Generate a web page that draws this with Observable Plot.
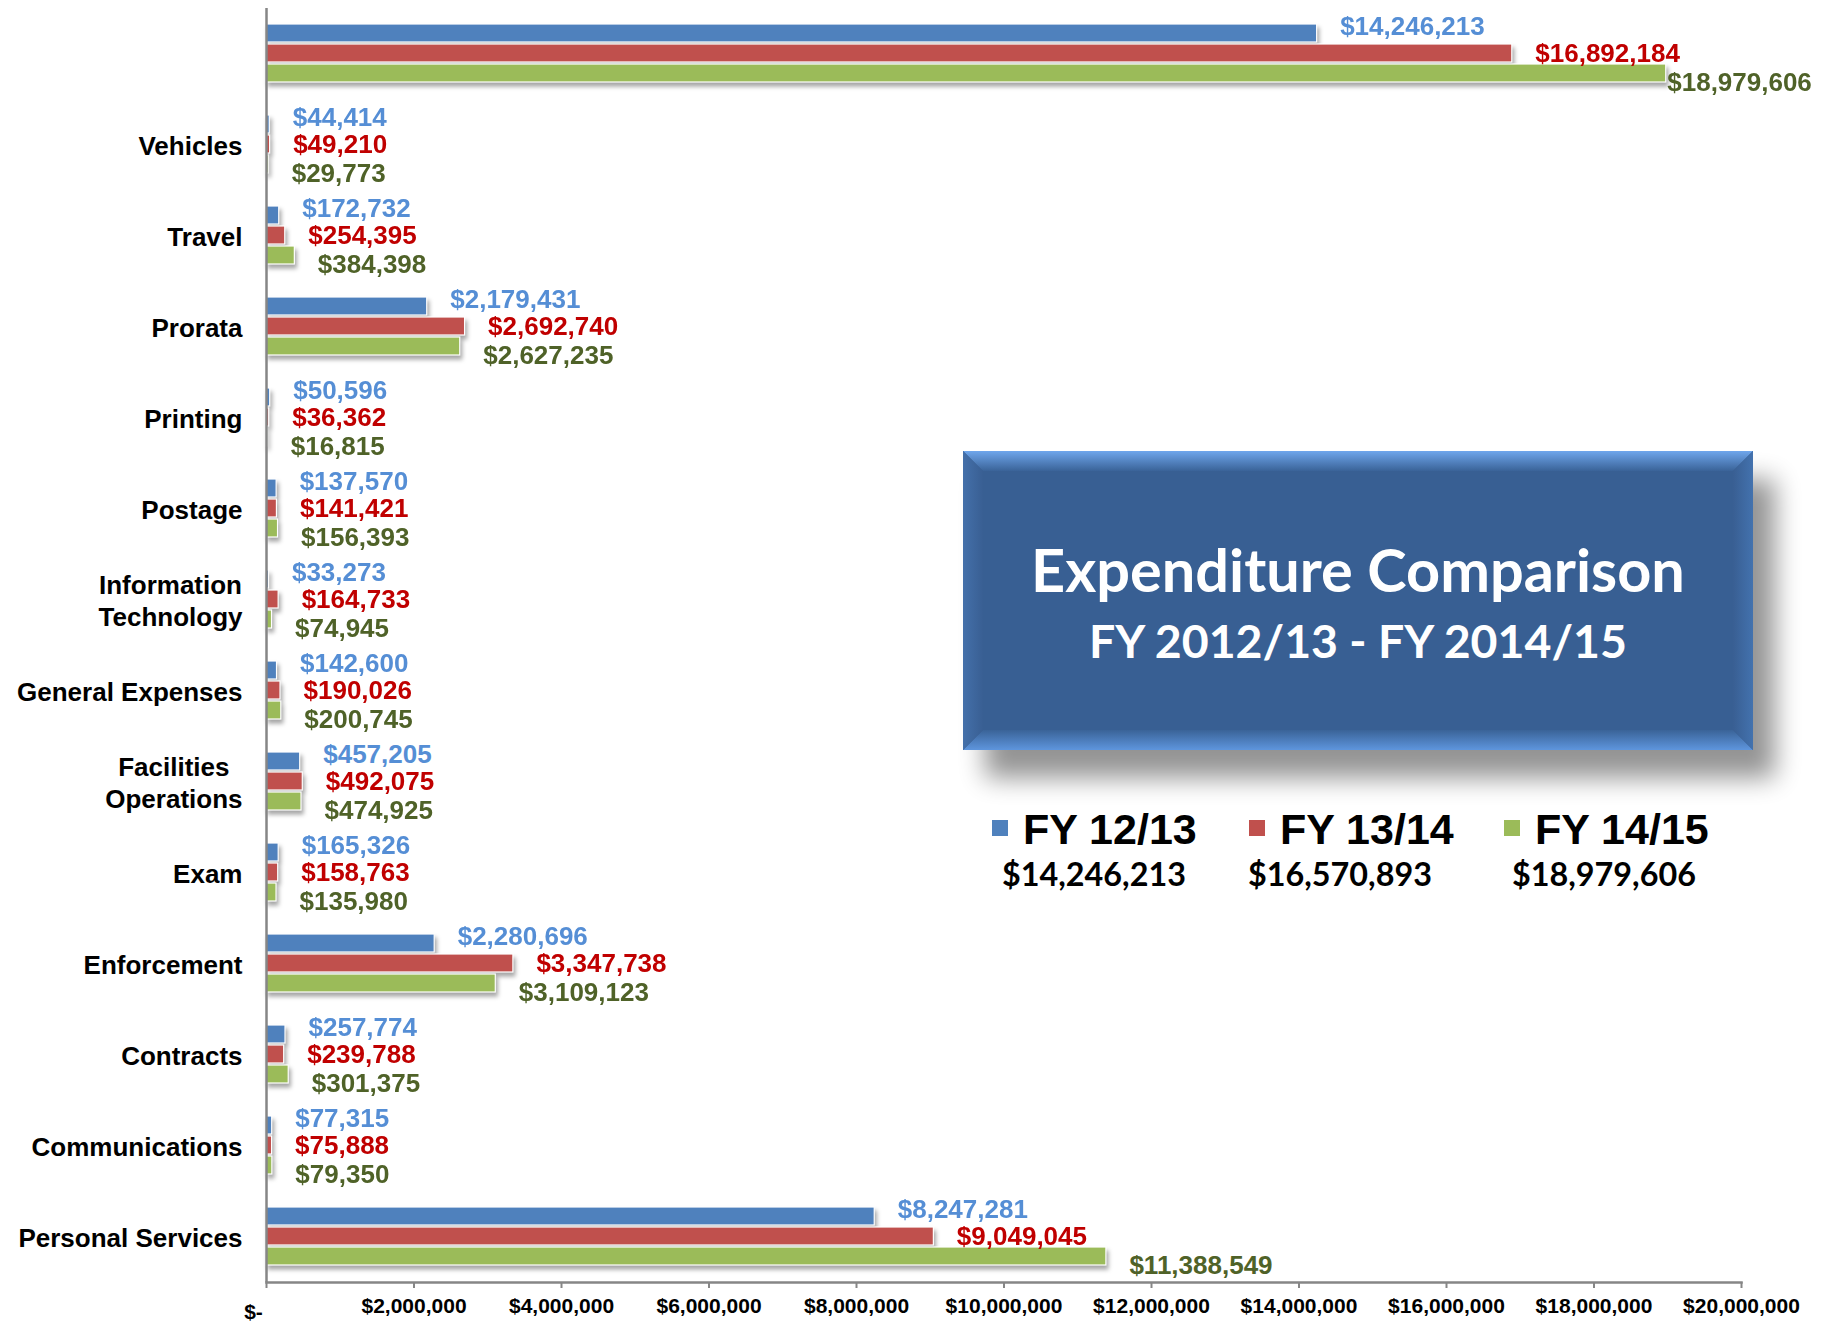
<!DOCTYPE html>
<html>
<head>
<meta charset="utf-8">
<script src="https://cdn.jsdelivr.net/npm/d3@7"></script>
<script src="https://cdn.jsdelivr.net/npm/@observablehq/plot@0.6"></script>
<style>
  html, body { margin: 0; padding: 0; background: #fff; }
  #chart { width: 1837px; height: 1322px; }
</style>
</head>
<body>
<div id="chart"></div>
<script>
// ---------------- data ----------------
const categories = ["Total", "Vehicles", "Travel", "Prorata", "Printing", "Postage",
  "Information Technology", "General Expenses", "Facilities Operations", "Exam",
  "Enforcement", "Contracts", "Communications", "Personal Services"];
const wrappedCategories = ["Information Technology", "Facilities Operations"];
const series = ["FY 12/13", "FY 13/14", "FY 14/15"];
const fy1213 = [14246213, 44414, 172732, 2179431, 50596, 137570, 33273, 142600, 457205, 165326, 2280696, 257774, 77315, 8247281];
const fy1314 = [16892184, 49210, 254395, 2692740, 36362, 141421, 164733, 190026, 492075, 158763, 3347738, 239788, 75888, 9049045];
const fy1415 = [18979606, 29773, 384398, 2627235, 16815, 156393, 74945, 200745, 474925, 135980, 3109123, 301375, 79350, 11388549];
const legendTotals = [14246213, 16570893, 18979606];
const xTicks = [0, 2000000, 4000000, 6000000, 8000000, 10000000, 12000000, 14000000, 16000000, 18000000, 20000000];
const titleText = "Expenditure Comparison";
const subtitleText = "FY 2012/13 - FY 2014/15";

// ---------------- styles ----------------
const barColors = ["#4F81BD", "#C0504D", "#9BBB59"];
const labelColors = ["#558ED5", "#C00000", "#4F6228"];
const labelDy = [-7, 0, 9];
const W = 1837, H = 1322;
const xMax = 20000000;

const seriesValues = [fy1213, fy1314, fy1415];
const data = categories.flatMap((c, i) => series.map((s, j) => ({category: c, series: s, value: seriesValues[j][i]})));

const money = v => "$" + d3.format(",")(v);
const tickFmt = v => v === 0 ? "$-" : money(v);
const catFmt = c => c === "Total" ? "" : (wrappedCategories.includes(c) ? c.replace(" ", "\n") : c);

const labelMarks = series.flatMap((s, j) => [
  Plot.text(data.filter(d => d.series === s && d.value <= 0.9 * xMax), {
    fy: "category", y: "series", x: "value", text: d => money(d.value),
    textAnchor: "start", dx: 23, dy: labelDy[j], fill: labelColors[j],
    fontSize: 26, fontWeight: "bold"
  }),
  Plot.text(data.filter(d => d.series === s && d.value > 0.9 * xMax), {
    fy: "category", y: "series", x: "value", text: d => money(d.value),
    textAnchor: "start", dx: 1, dy: labelDy[j], fill: labelColors[j],
    fontSize: 26, fontWeight: "bold"
  })
]);

const svgNode = Plot.plot({
  width: W, height: H,
  marginLeft: 266, marginRight: 96, marginTop: 7, marginBottom: 39,
  style: {fontFamily: "'Liberation Sans', Arial, sans-serif", background: "white", overflow: "visible"},
  x: {domain: [0, xMax]},
  y: {domain: series, paddingInner: 0.08, paddingOuter: 0.76, axis: null},
  fy: {domain: categories, padding: 0},
  color: {domain: series, range: barColors},
  marks: [
    Plot.barX(data, {fy: "category", y: "series", x: "value", fill: "series", stroke: "white", strokeWidth: 1.2}),
    Plot.ruleX([0], {stroke: "#868686", strokeWidth: 2.5}),
    Plot.frame({anchor: "bottom", facetAnchor: "bottom", stroke: "#868686", strokeWidth: 2.5}),
    Plot.axisX({ticks: xTicks, tickFormat: tickFmt, tickSize: 6, tickPadding: 10, fontSize: 21,
      fontWeight: "bold", stroke: "#868686", strokeWidth: 2, fill: "black", label: null}),
    Plot.axisFy({anchor: "left", tickSize: 0, tickPadding: 24, fontSize: 26, fontWeight: "bold",
      fill: "black", lineHeight: 1.2, tickFormat: catFmt, label: null}),
    ...labelMarks
  ]
});

document.getElementById("chart").appendChild(svgNode);
const svg = d3.select(svgNode);

// bar shadows
svg.selectAll('g[aria-label="bar"]').style("filter", "drop-shadow(2px 4px 2px rgba(0,0,0,0.35))");

// "$-" tick label offset
svg.selectAll('g[aria-label="x-axis tick label"] text').each(function() {
  if (this.textContent === "$-") {
    const t = this.getAttribute("transform") || "";
    this.setAttribute("transform", t + " translate(-13,6)");
  }
});

// center multi-line category labels
svg.selectAll('g[aria-label="fy-axis tick label"] text').each(function() {
  const tspans = this.querySelectorAll("tspan");
  if (tspans.length > 1) {
    let maxW = 0;
    tspans.forEach(t => { maxW = Math.max(maxW, t.getComputedTextLength()); });
    this.setAttribute("text-anchor", "middle");
    this.style.textAnchor = "middle";
    const t = this.getAttribute("transform") || "";
    this.setAttribute("transform", t + ` translate(${-maxW / 2},0)`);
  }
});

function fit(sel, target) {
  const w = sel.node().getComputedTextLength();
  const fs = parseFloat(sel.attr("font-size"));
  if (w > 0) sel.attr("font-size", fs * target / w);
}

// ---------------- title box ----------------
const bx0 = 963, by0 = 451, bx1 = 1753, by1 = 750, bev = 20;
const defs = svg.append("defs");
const blur = defs.append("filter").attr("id", "boxBlur")
  .attr("x", "-20%").attr("y", "-30%").attr("width", "140%").attr("height", "160%");
blur.append("feGaussianBlur").attr("stdDeviation", 13);
const gTop = defs.append("linearGradient").attr("id", "bevTop").attr("x1", 0).attr("y1", 0).attr("x2", 0).attr("y2", 1);
gTop.append("stop").attr("offset", "0%").attr("stop-color", "#6FA6EC");
gTop.append("stop").attr("offset", "100%").attr("stop-color", "#3A6398");
const gBot = defs.append("linearGradient").attr("id", "bevBot").attr("x1", 0).attr("y1", 0).attr("x2", 0).attr("y2", 1);
gBot.append("stop").attr("offset", "0%").attr("stop-color", "#3A6398");
gBot.append("stop").attr("offset", "100%").attr("stop-color", "#5E95DD");
const gLeft = defs.append("linearGradient").attr("id", "bevLeft").attr("x1", 0).attr("y1", 0).attr("x2", 1).attr("y2", 0);
gLeft.append("stop").attr("offset", "0%").attr("stop-color", "#4470AA");
gLeft.append("stop").attr("offset", "100%").attr("stop-color", "#395F93");
const gRight = defs.append("linearGradient").attr("id", "bevRight").attr("x1", 0).attr("y1", 0).attr("x2", 1).attr("y2", 0);
gRight.append("stop").attr("offset", "0%").attr("stop-color", "#395F93");
gRight.append("stop").attr("offset", "100%").attr("stop-color", "#4372AE");

const box = svg.append("g").attr("class", "title-box");
box.append("rect").attr("x", bx0 + 22).attr("y", by0 + 28).attr("width", bx1 - bx0).attr("height", by1 - by0)
  .attr("fill", "#000").attr("opacity", 0.42).attr("filter", "url(#boxBlur)");
box.append("rect").attr("x", bx0).attr("y", by0).attr("width", bx1 - bx0).attr("height", by1 - by0).attr("fill", "#385F93");
box.append("polygon").attr("points", `${bx0},${by0} ${bx1},${by0} ${bx1 - bev},${by0 + bev} ${bx0 + bev},${by0 + bev}`).attr("fill", "url(#bevTop)");
box.append("polygon").attr("points", `${bx0},${by1} ${bx1},${by1} ${bx1 - bev},${by1 - bev} ${bx0 + bev},${by1 - bev}`).attr("fill", "url(#bevBot)");
box.append("polygon").attr("points", `${bx0},${by0} ${bx0 + bev},${by0 + bev} ${bx0 + bev},${by1 - bev} ${bx0},${by1}`).attr("fill", "url(#bevLeft)");
box.append("polygon").attr("points", `${bx1},${by0} ${bx1 - bev},${by0 + bev} ${bx1 - bev},${by1 - bev} ${bx1},${by1}`).attr("fill", "url(#bevRight)");

const cx = (bx0 + bx1) / 2;
const tTitle = box.append("text").attr("x", cx).attr("y", 592).attr("text-anchor", "middle")
  .attr("font-family", "Lato, 'Open Sans', sans-serif").attr("font-weight", "bold")
  .attr("font-size", 60).attr("fill", "white").text(titleText);
fit(tTitle, 654);
const tSub = box.append("text").attr("x", cx).attr("y", 658).attr("text-anchor", "middle")
  .attr("font-family", "Lato, 'Open Sans', sans-serif").attr("font-weight", "bold")
  .attr("font-size", 46).attr("fill", "white").text(subtitleText);
fit(tSub, 538);

// ---------------- legend ----------------
const legSquareX = [992, 1249, 1504];
const legValueCx = [1094, 1340, 1604];
const leg = svg.append("g").attr("class", "legend");
series.forEach((s, j) => {
  leg.append("rect").attr("x", legSquareX[j]).attr("y", 820).attr("width", 16).attr("height", 16).attr("fill", barColors[j]);
  leg.append("text").attr("x", legSquareX[j] + 31).attr("y", 844).attr("text-anchor", "start")
    .attr("font-family", "'Liberation Sans', Arial, sans-serif").attr("font-weight", "bold")
    .attr("font-size", 43).attr("fill", "black").text(s);
  const tv = leg.append("text").attr("x", legValueCx[j]).attr("y", 886).attr("text-anchor", "middle")
    .attr("font-family", "Lato, 'Open Sans', sans-serif").attr("font-weight", "bold")
    .attr("font-size", 32).attr("fill", "black").text(money(legendTotals[j]));
  fit(tv, 184);
});
</script>
</body>
</html>
